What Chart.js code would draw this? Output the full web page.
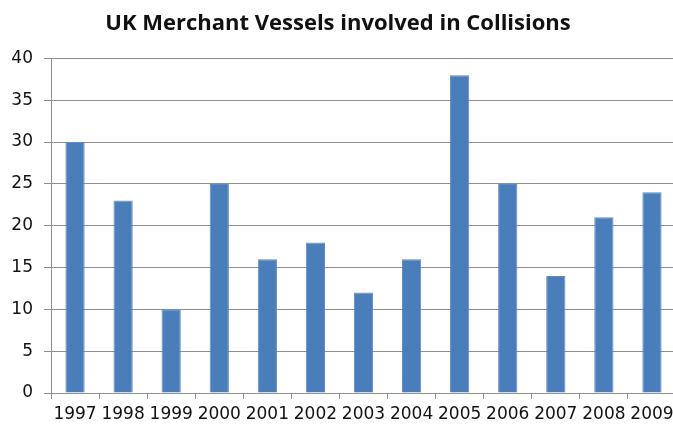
<!DOCTYPE html>
<html>
<head>
<meta charset="utf-8">
<script src="https://cdn.jsdelivr.net/npm/chart.js@4/dist/chart.umd.min.js"></script>
<style>
  html, body { margin: 0; padding: 0; background: #fff; }
  #wrap { width: 673px; height: 427px; overflow: hidden; }
</style>
</head>
<body>
<div id="wrap"><canvas id="chart" width="680" height="427"></canvas></div>
<script>
// chart data
const years = ['1997', '1998', '1999', '2000', '2001', '2002', '2003', '2004', '2005', '2006', '2007', '2008', '2009'];
const collisions = [30, 23, 10, 25, 16, 18, 12, 16, 38, 25, 14, 21, 24];
const yTicks = [0, 5, 10, 15, 20, 25, 30, 35, 40];

const gridGrey = '#8e8e8e';
const tickFont = { family: '"DejaVu Sans", Verdana, sans-serif', size: 17 };

new Chart(document.getElementById('chart'), {
    type: 'bar',
    data: {
        labels: years,
        datasets: [{
            label: 'Collisions',
            data: collisions,
            backgroundColor: '#4a7ebb',
            borderColor: '#5b8ac4',
            borderWidth: 1,
            barPercentage: 0.8,
            categoryPercentage: 0.5
        }]
    },
    options: {
        responsive: false,
        animation: false,
        layout: { padding: { left: 0, right: 4, top: 0, bottom: 0 } },
        plugins: {
            legend: { display: false },
            tooltip: { enabled: false },
            title: {
                display: true,
                text: 'UK Merchant Vessels involved in Collisions',
                color: '#111',
                font: { family: '"Open Sans", sans-serif', size: 22, weight: 'bold', lineHeight: 1.2 },
                padding: { top: 11, bottom: 21 }
            }
        },
        scales: {
            x: {
                grid: { display: true, drawOnChartArea: false, drawTicks: true, tickLength: 6, color: gridGrey },
                border: { display: true, color: gridGrey, width: 1 },
                ticks: { color: '#111', padding: 5, maxRotation: 0, autoSkip: false, font: tickFont },
                afterFit: s => { s.height = 34; }
            },
            y: {
                min: 0,
                max: 40,
                afterBuildTicks: s => { s.ticks = yTicks.map(v => ({ value: v })); },
                grid: { color: gridGrey, tickLength: 7, drawTicks: true },
                border: { display: true, color: gridGrey, width: 1 },
                ticks: { color: '#111', padding: 11, font: tickFont },
                afterFit: s => { s.width = 51; }
            }
        }
    }
});
</script>
</body>
</html>
